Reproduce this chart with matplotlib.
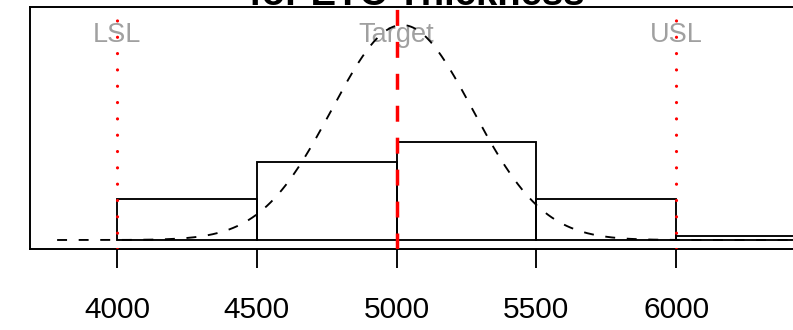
import matplotlib
matplotlib.use("Agg")
import matplotlib.pyplot as plt
import matplotlib.transforms as mtransforms
import numpy as np

plt.rcParams['font.family'] = ['Liberation Sans', 'DejaVu Sans']

# histogram bins (density scale)
bin_edges = [4000, 4500, 5000, 5500, 6000, 7600]
bar_density = [0.000302, 0.000578, 0.000719, 0.000302, 0.0000295]

# spec limits and target
spec_values = [4000, 5000, 6000]
spec_labels = ['LSL', 'Target', 'USL']

# fitted normal curve
proc_mean = 5020
proc_sd = 252
curve_from = 3786
curve_to = 6460

x_ticks = [4000, 4500, 5000, 5500, 6000]
title = "Process Capability Analysis\nfor ETC Thickness"

W, H = 793, 330
fig = plt.figure(figsize=(W / 100, H / 100), dpi=100)
# plot region runs a little past the right edge of the picture
ax = fig.add_axes([30 / W, (H - 249) / H, 772 / W, 242 / H])

ax.set_xlim(3689, 6450)
ax.set_ylim(-6.63e-5, 0.0017158)

# histogram
widths = np.diff(bin_edges)
ax.bar(bin_edges[:-1], bar_density, width=widths, align='edge',
       fill=False, edgecolor='black', linewidth=1.35, zorder=2)

# spec labels
trans = mtransforms.blended_transform_factory(ax.transData, ax.transAxes)
for v, lab in zip(spec_values, spec_labels):
    ax.text(v, (249 - 42) / 242, lab, transform=trans, ha='center',
            va='baseline', color='#A0A0A0', fontsize=19.5, zorder=3)

# normal density
xs = np.linspace(curve_from, curve_to, 400)
ys = np.exp(-0.5 * ((xs - proc_mean) / proc_sd) ** 2) / (proc_sd * np.sqrt(2 * np.pi))
ax.plot(xs, ys, color='black', linewidth=1.35, linestyle=(0, (5.3, 6.2)), zorder=4)

# spec limits (dotted) and target (dashed)
y0, y1 = ax.get_ylim()
for v, lab in zip(spec_values, spec_labels):
    if lab == 'Target':
        ax.plot([v, v], [y0, y1], color='red', linewidth=2.5,
                linestyle=(0, (4.6, 4.6)), zorder=5)
    else:
        ln, = ax.plot([v, v], [y0, y1], color='red', linewidth=2.3,
                      linestyle=(0, (0.01, 5.1)), zorder=5)
        ln.set_dash_capstyle('round')

ax.set_yticks([])
ax.set_xticks(x_ticks)
ax.set_xticklabels([str(t) for t in x_ticks])
ax.tick_params(axis='x', length=13.7, width=1.35, pad=20.5, labelsize=21.5)
for side in ['left', 'top', 'bottom', 'right']:
    ax.spines[side].set_linewidth(1.4)

fig.text(416.5 / W, (H - 5) / H, title, ha='center', va='baseline',
         fontsize=27.5, fontweight='bold', multialignment='center')

fig.savefig('out.png', dpi=100)
